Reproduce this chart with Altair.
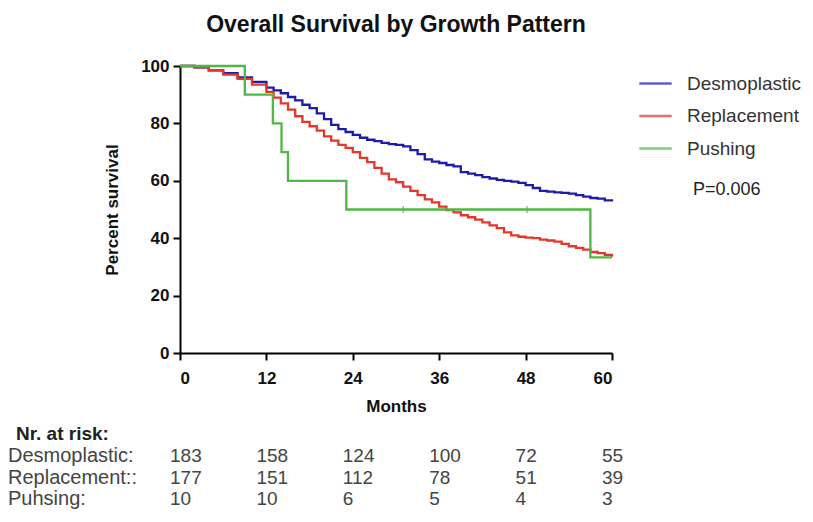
import altair as alt
import pandas as pd

groups = ["Desmoplastic", "Replacement", "Pushing"]
colors = ["#1c1ca8", "#e8352b", "#4db843"]

desmo_months = [0, 2, 4, 6, 8, 10, 12, 13, 14, 15, 16, 17, 18, 19, 20, 21, 22, 23, 24, 25,
                26, 27, 28, 29, 30, 31, 32, 33, 34, 35, 36, 37, 38, 39, 40, 41, 42, 43, 44,
                45, 46, 47, 48, 49, 50, 51, 52, 53, 54, 55, 56, 57, 58, 59, 60]
desmo_surv = [100, 99.5, 98.5, 97.5, 96, 94.5, 92.5, 91.5, 90.5, 89.2, 88, 86.5, 85.3, 83.5,
              81.5, 79.5, 78, 77, 76, 75, 74.3, 73.8, 73.2, 72.8, 72.5, 72, 70.7, 69.3, 67.5,
              66.7, 66.2, 65.5, 65, 63, 62.5, 62, 61.3, 60.8, 60.3, 60, 59.7, 59.3, 58.5,
              57.5, 56.5, 56.2, 56, 55.8, 55.5, 55, 54.5, 54, 53.8, 53.2, 52.8]

repl_months = [0, 2, 4, 6, 8, 10, 12, 13, 14, 15, 16, 17, 18, 19, 20, 21, 22, 23, 24, 25,
               26, 27, 28, 29, 30, 31, 32, 33, 34, 35, 36, 37, 38, 39, 40, 41, 42, 43, 44,
               45, 46, 47, 48, 49, 50, 51, 52, 53, 54, 55, 56, 57, 58, 59, 60]
repl_surv = [100, 99.5, 98.5, 97, 95.5, 93.5, 91, 89, 87, 84.8, 82.5, 80.5, 79, 77.5, 75.5,
             74, 72.5, 71.5, 70, 68, 66.5, 64.5, 62.5, 60.5, 59.5, 58, 56.5, 55, 53.5, 52.5,
             51, 49.8, 49, 48, 47.3, 46.5, 45.5, 44.5, 43.5, 42, 41, 40.5, 40.2, 40, 39.5,
             39.2, 38.8, 38, 37.2, 36.6, 36, 35.2, 34.8, 34.2, 33.5]

push_months = [0, 9.0, 12.9, 14.1, 15.0, 23.1, 57.0, 60]
push_surv = [100, 90, 80, 70, 60, 50, 33.3, 33.3]

push_censor_months = [31, 48.2]
push_censor_surv = [50, 50]

risk_months = [0, 12, 24, 36, 48, 60]
risk_rows = ["Desmoplastic:", "Replacement::", "Puhsing:"]
risk_desmo = [183, 158, 124, 100, 72, 55]
risk_repl = [177, 151, 112, 78, 51, 39]
risk_push = [10, 10, 6, 5, 4, 3]

FONT = "Liberation Sans, Arial, sans-serif"

curves = pd.concat([
    pd.DataFrame({"group": g, "month": m, "surv": s})
    for g, m, s in zip(groups, [desmo_months, repl_months, push_months],
                       [desmo_surv, repl_surv, push_surv])
], ignore_index=True)

censor = pd.DataFrame({"group": "Pushing", "month": push_censor_months, "surv": push_censor_surv})

table = pd.concat([
    pd.DataFrame({"row": r, "month": risk_months, "n": v})
    for r, v in zip(risk_rows, [risk_desmo, risk_repl, risk_push])
], ignore_index=True)
row_labels = pd.DataFrame({"row": risk_rows})

x_scale = alt.Scale(domain=[0, 60], nice=False, zero=False)
y_scale = alt.Scale(domain=[0, 100], nice=False)
color_scale = alt.Scale(domain=groups, range=colors)

lines = alt.Chart(curves).mark_line(interpolate="step-after", strokeWidth=2.3).encode(
    x=alt.X("month:Q", scale=x_scale,
            axis=alt.Axis(values=risk_months, title="Months", grid=False)),
    y=alt.Y("surv:Q", scale=y_scale,
            axis=alt.Axis(values=[0, 20, 40, 60, 80, 100], title="Percent survival", grid=False)),
    color=alt.Color("group:N", scale=color_scale, sort=groups,
                    legend=alt.Legend(title=None, orient="none", legendX=458, legendY=0,
                                      symbolType="stroke", symbolSize=1050,
                                      symbolStrokeWidth=2.5, labelFontSize=19,
                                      labelFont=FONT, labelColor="#333",
                                      labelOffset=14, rowPadding=4.5)),
)

ticks = alt.Chart(censor).mark_tick(orient="vertical", size=7, thickness=1.5).encode(
    x=alt.X("month:Q", scale=x_scale),
    y=alt.Y("surv:Q", scale=y_scale),
    color=alt.Color("group:N", scale=color_scale, sort=groups),
)

plot = alt.layer(lines, ticks)

pval = alt.Chart(pd.DataFrame({"t": ["P=0.006"]})).mark_text(
    align="left", baseline="middle", fontSize=18, font=FONT, color="#222"
).encode(x=alt.value(513), y=alt.value(124), text="t:N")

header = alt.Chart(pd.DataFrame({"t": ["Nr. at risk:"]})).mark_text(
    align="left", baseline="middle", fontSize=19, font=FONT, fontWeight="bold", color="#222"
).encode(x=alt.value(-164), y=alt.value(368), text="t:N")

row_scale = alt.Scale(domain=risk_rows, range=[390, 433], padding=0)

labels = alt.Chart(row_labels).mark_text(
    align="left", baseline="middle", fontSize=20, font=FONT, color="#444"
).encode(x=alt.value(-172), y=alt.Y("row:N", scale=row_scale, axis=None), text="row:N")

numbers = alt.Chart(table).mark_text(
    align="left", baseline="middle", fontSize=19, font=FONT, color="#444", dx=-10
).encode(x=alt.X("month:Q", scale=x_scale),
         y=alt.Y("row:N", scale=row_scale, axis=None), text="n:Q")

chart = alt.layer(plot, pval, header, labels, numbers).resolve_scale(
    y="independent"
).properties(
    width=432, height=287,
    autosize=alt.AutoSizeParams(type="none"),
    padding={"left": 172, "top": 58, "right": 193, "bottom": 161},
    title=alt.TitleParams("Overall Survival by Growth Pattern", fontSize=23, font=FONT,
                          fontWeight="bold", color="#111", offset=20),
).configure_view(stroke=None).configure_axis(
    domainColor="#000", domainWidth=2, tickColor="#000", tickWidth=2, tickSize=7,
    labelFont=FONT, labelFontSize=17, labelFontWeight="bold", labelColor="#111",
    labelPadding=4, titleFont=FONT, titleFontSize=17, titleFontWeight="bold",
    titleColor="#111"
).configure_axisX(titlePadding=12, labelPadding=10).configure_axisY(titlePadding=19)

chart.save("out.html", embed_options={"renderer": "svg", "actions": False})
